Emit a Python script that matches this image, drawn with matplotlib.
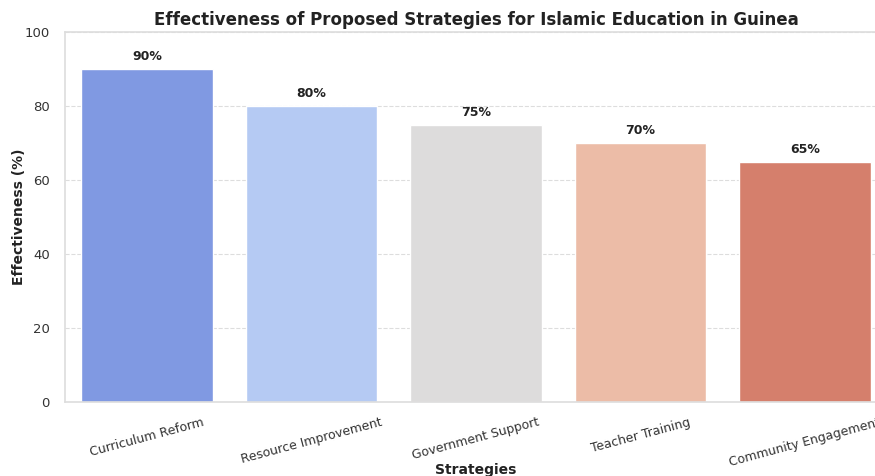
import matplotlib
matplotlib.use("Agg")
import matplotlib.pyplot as plt
import seaborn as sns

strategies = ["Curriculum Reform", "Resource Improvement", "Government Support",
              "Teacher Training", "Community Engagement"]
effectiveness = [90, 80, 75, 70, 65]

sns.set_theme(style="whitegrid")
plt.rcParams['font.family'] = ['DejaVu Sans']

fig = plt.figure(figsize=(8.75, 4.76), dpi=100)
ax = fig.add_axes([65/875, 1 - 402/476, (887-65)/875, (402-32)/476])

colors = [sns.desaturate(c, 0.75) for c in sns.color_palette("coolwarm", len(strategies))]
ax.bar(range(len(strategies)), effectiveness, width=0.8, color=colors,
       edgecolor="white", linewidth=1)

for i, v in enumerate(effectiveness):
    ax.annotate(f"{v}%", (i, v), xytext=(0, 4), textcoords="offset points",
                ha="center", va="bottom", fontsize=9, fontweight="bold", color="#222222")

ax.set_xlim(-0.5, len(strategies) - 0.5)
ax.set_ylim(0, 100)
ax.set_xticks(range(len(strategies)))
ax.set_xticklabels(strategies, rotation=15, ha="center", fontsize=9, color="#333333")
ax.tick_params(axis="y", labelsize=9.5, colors="#333333", pad=5)
ax.tick_params(axis="x", pad=4)
ax.set_yticks([0, 20, 40, 60, 80, 100])

ax.grid(axis="x", visible=False)
ax.grid(axis="y", linestyle="--", color="#dddddd", linewidth=0.8)
ax.set_axisbelow(True)
for s in ax.spines.values():
    s.set_color("#dddddd")
    s.set_linewidth(1.2)

ax.set_title("Effectiveness of Proposed Strategies for Islamic Education in Guinea",
             fontsize=12, fontweight="bold", color="#222222", pad=5, x=(476-65)/822)
ax.set_ylabel("Effectiveness (%)", fontsize=10, fontweight="bold", color="#222222")
ax.yaxis.set_label_coords(-(65-26)/822, 0.5)
ax.set_xlabel("Strategies", fontsize=10, fontweight="bold", color="#222222")
ax.xaxis.set_label_coords((476-65)/822, -0.165)

fig.savefig("out.png", dpi=100)
